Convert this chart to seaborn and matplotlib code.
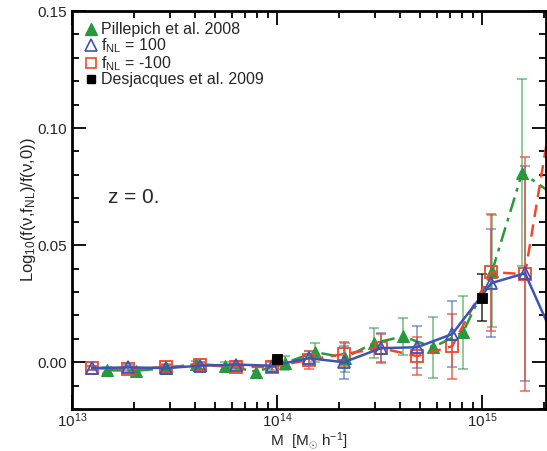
import numpy as np
import pandas as pd
import matplotlib
matplotlib.use("Agg")
import matplotlib.pyplot as plt
from matplotlib.lines import Line2D
from matplotlib.ticker import MultipleLocator, FormatStrFormatter, LogLocator
import seaborn as sns

# Mass bins of the simulations [M_sun / h]
mass_sim = [1.25e13, 1.88e13, 2.88e13, 4.21e13, 6.31e13, 9.46e13, 1.43e14,
            2.12e14, 3.21e14, 4.82e14, 7.14e14, 1.11e15, 1.62e15, 2.43e15]
fnl_p100 = [-0.0025, -0.0022, -0.0025, -0.0015, -0.0010, -0.0015, 0.0017,
            0.0000, 0.0060, 0.0064, 0.0120, 0.0338, 0.0380, 0.0034]
fnl_p100_err = [0.0010, 0.0010, 0.0012, 0.0015, 0.0015, 0.0020, 0.0030,
                0.0070, 0.0065, 0.0090, 0.0140, 0.0230, 0.0460, 0.0600]
fnl_m100 = [-0.0025, -0.0030, -0.0020, -0.0012, -0.0020, -0.0020, 0.0010,
            0.0035, 0.0060, 0.0026, 0.0068, 0.0385, 0.0376, 0.1310]
fnl_m100_err = [0.0010, 0.0010, 0.0012, 0.0015, 0.0015, 0.0020, 0.0040,
                0.0050, 0.0060, 0.0080, 0.0140, 0.0250, 0.0500, 0.0700]

# Pillepich et al. 2008
mass_pil = [1.48e13, 2.05e13, 2.88e13, 4.03e13, 5.57e13, 7.90e13, 1.09e14,
            1.53e14, 2.15e14, 2.97e14, 4.12e14, 5.77e14, 8.07e14, 1.12e15,
            1.57e15, 2.19e15]
pil = [-0.0034, -0.0036, -0.0026, -0.0008, -0.0015, -0.0040, -0.0004,
       0.0043, 0.0020, 0.0082, 0.0110, 0.0064, 0.0128, 0.0390, 0.0810, 0.0720]
pil_err = [0.0012, 0.0012, 0.0015, 0.0015, 0.0018, 0.0025, 0.0030,
           0.0040, 0.0060, 0.0065, 0.0080, 0.0130, 0.0155, 0.0240, 0.0400, 0.0450]

# Desjacques et al. 2009
mass_des = [1.0e14, 1.0e15]
des = [0.0015, 0.0275]
des_err = [0.0005, 0.0100]

GREEN = "#25993b"
BLUE = "#3b55b5"
RED = "#f2472b"

sns.set_style("ticks")
plt.rcParams["font.family"] = ["Liberation Sans", "DejaVu Sans"]
plt.rcParams["mathtext.fontset"] = "custom"
plt.rcParams["mathtext.rm"] = "Liberation Sans"
plt.rcParams["mathtext.it"] = "Liberation Sans"

fig = plt.figure(figsize=(5.47, 4.51), dpi=100)
ax = fig.add_axes([0.1316, 0.093, 0.8666, 0.8826])

df_pil = pd.DataFrame({"M": mass_pil, "r": pil, "e": pil_err})
df_p = pd.DataFrame({"M": mass_sim, "r": fnl_p100, "e": fnl_p100_err})
df_m = pd.DataFrame({"M": mass_sim, "r": fnl_m100, "e": fnl_m100_err})
df_d = pd.DataFrame({"M": mass_des, "r": des, "e": des_err})

# error bars first, in lighter tones
eb = dict(fmt="none", elinewidth=1.3, capsize=3.5, capthick=1.3)
ax.errorbar(df_pil["M"], df_pil["r"], yerr=df_pil["e"], ecolor=GREEN, alpha=0.55, **eb)
ax.errorbar(df_p["M"], df_p["r"], yerr=df_p["e"], ecolor=BLUE, alpha=0.55, **eb)
ax.errorbar(df_m["M"], df_m["r"], yerr=df_m["e"], ecolor=RED, alpha=0.7, **eb)
ax.errorbar(df_d["M"], df_d["r"], yerr=df_d["e"], ecolor="black", alpha=0.7, **eb)

sns.lineplot(data=df_pil, x="M", y="r", ax=ax, color=GREEN, lw=1.8,
             linestyle=(0, (6, 2.5, 1.5, 2.5)), marker="^", markersize=8,
             markeredgecolor=GREEN, markerfacecolor=GREEN, sort=False)
sns.lineplot(data=df_m, x="M", y="r", ax=ax, color=RED, lw=1.8,
             linestyle=(0, (5, 3)), marker="s", markersize=9,
             markeredgecolor=RED, markerfacecolor="none", markeredgewidth=1.3,
             sort=False)
sns.lineplot(data=df_p, x="M", y="r", ax=ax, color=BLUE, lw=1.8,
             linestyle="-", marker="^", markersize=8,
             markeredgecolor=BLUE, markerfacecolor="none", markeredgewidth=1.3,
             sort=False)
sns.scatterplot(data=df_d, x="M", y="r", ax=ax, color="black", marker="s",
                s=60, edgecolor="black", zorder=5)

ax.set_xscale("log")
ax.set_xlim(1e13, 2.05e15)
ax.set_ylim(-0.02, 0.15)

ax.yaxis.set_major_locator(MultipleLocator(0.05))
ax.yaxis.set_minor_locator(MultipleLocator(0.01))
ax.yaxis.set_major_formatter(FormatStrFormatter("%.2f"))
ax.xaxis.set_major_locator(LogLocator(base=10, numticks=10))
ax.xaxis.set_minor_locator(LogLocator(base=10, subs=np.arange(2, 10), numticks=10))

ax.tick_params(which="both", direction="in", top=True, right=True,
               labelsize=11, color="black")
ax.tick_params(axis="x", pad=2)
ax.tick_params(which="major", length=10, width=1.3)
ax.tick_params(which="minor", length=5, width=1.3)
for sp in ax.spines.values():
    sp.set_linewidth(2)
    sp.set_color("black")

ax.set_xlabel(r"M  [M$_{\odot}$ h$^{-1}$]", fontsize=11, labelpad=0)
ax.set_ylabel(r"Log$_{10}$(f($\nu$,f$_{\rm NL}$)/f($\nu$,0))", fontsize=12)
ax.yaxis.set_label_coords(-0.072, 0.5)

ax.text(1.5e13, 0.068, "z = 0.", fontsize=15)

handles = [
    Line2D([], [], ls="none", marker="^", color=GREEN, markersize=8),
    Line2D([], [], ls="none", marker="^", markerfacecolor="none",
           markeredgecolor=BLUE, markersize=8, markeredgewidth=1.2),
    Line2D([], [], ls="none", marker="s", markerfacecolor="none",
           markeredgecolor=RED, markersize=7, markeredgewidth=1.2),
    Line2D([], [], ls="none", marker="s", color="black", markersize=6),
]
labels = ["Pillepich et al. 2008", r"f$_{\rm NL}$ = 100",
          r"f$_{\rm NL}$ = -100", "Desjacques et al. 2009"]
ax.legend(handles, labels, loc="upper left", frameon=False, fontsize=11.5,
          handletextpad=0.1, labelspacing=-0.05, handlelength=1.0,
          borderaxespad=0.3, bbox_to_anchor=(0.0, 1.0))

fig.savefig("out.png", dpi=100)
